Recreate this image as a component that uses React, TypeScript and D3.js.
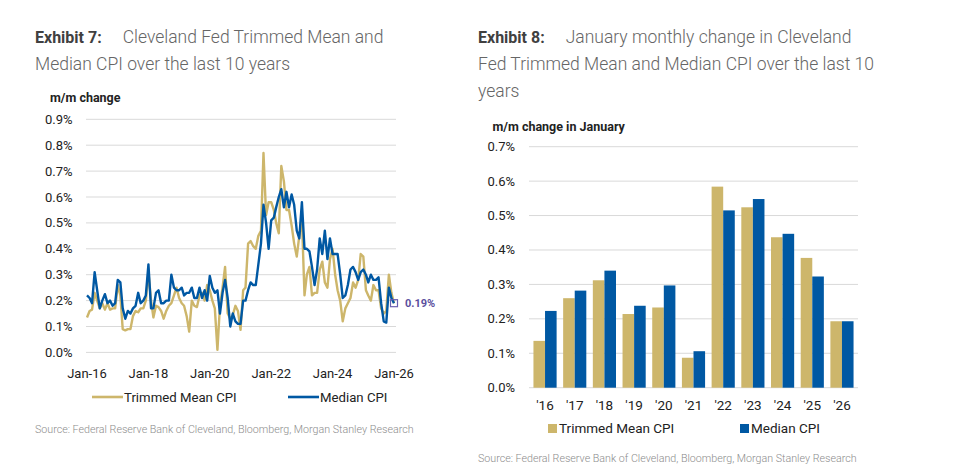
import * as d3 from 'd3';
import { useEffect, useRef } from 'react';

// Exhibit 7: monthly m/m change, Jan-16 .. Jan-26 (121 months)
const trimmedMean: number[] = [
    0.135, 0.16, 0.165, 0.23, 0.20, 0.17, 0.19, 0.165, 0.19, 0.165, 0.17, 0.17,
    0.26, 0.22, 0.09, 0.085, 0.09, 0.09, 0.14, 0.16, 0.155, 0.17, 0.17, 0.20,
    0.31, 0.20, 0.135, 0.18, 0.175, 0.16, 0.13, 0.16, 0.18, 0.19, 0.22, 0.25,
    0.21, 0.19, 0.18, 0.14, 0.08, 0.20, 0.18, 0.175, 0.22, 0.23, 0.20, 0.26,
    0.24, 0.20, 0.17, 0.01, 0.18, 0.25, 0.33, 0.15, 0.13, 0.145, 0.18, 0.16,
    0.087, 0.24, 0.25, 0.42, 0.43, 0.41, 0.40, 0.45, 0.47, 0.77, 0.53, 0.58,
    0.58, 0.55, 0.50, 0.46, 0.72, 0.66, 0.55, 0.55, 0.49, 0.42, 0.37, 0.45,
    0.52, 0.22, 0.30, 0.33, 0.22, 0.23, 0.23, 0.32, 0.35, 0.27, 0.25, 0.36,
    0.40, 0.30, 0.24, 0.20, 0.12, 0.17, 0.19, 0.21, 0.27, 0.25, 0.28, 0.38,
    0.37, 0.24, 0.22, 0.20, 0.26, 0.24, 0.24, 0.17, 0.15, 0.16, 0.30, 0.23,
    0.19
];

const medianCpi: number[] = [
    0.22, 0.21, 0.19, 0.31, 0.24, 0.17, 0.20, 0.225, 0.19, 0.20, 0.18, 0.19,
    0.28, 0.27, 0.17, 0.13, 0.16, 0.15, 0.17, 0.18, 0.23, 0.19, 0.20, 0.22,
    0.34, 0.17, 0.17, 0.23, 0.24, 0.19, 0.19, 0.20, 0.20, 0.30, 0.25, 0.24,
    0.24, 0.25, 0.22, 0.23, 0.23, 0.25, 0.21, 0.21, 0.25, 0.21, 0.24, 0.20,
    0.295, 0.25, 0.23, 0.24, 0.15, 0.23, 0.28, 0.21, 0.10, 0.15, 0.12, 0.11,
    0.11, 0.20, 0.20, 0.24, 0.27, 0.26, 0.26, 0.34, 0.42, 0.57, 0.50, 0.40,
    0.51, 0.52, 0.56, 0.60, 0.63, 0.56, 0.62, 0.56, 0.61, 0.57, 0.47, 0.44,
    0.58, 0.40, 0.40, 0.39, 0.33, 0.26, 0.32, 0.44, 0.38, 0.47, 0.36, 0.44,
    0.38, 0.38, 0.38, 0.30, 0.21, 0.22, 0.26, 0.32, 0.33, 0.31, 0.28, 0.31,
    0.32, 0.30, 0.27, 0.30, 0.28, 0.28, 0.29, 0.19, 0.12, 0.115, 0.25, 0.21,
    0.19
];

const lineTicks = ['Jan-16', 'Jan-18', 'Jan-20', 'Jan-22', 'Jan-24', 'Jan-26'];
const lineYTicks = [0, 0.1, 0.2, 0.3, 0.4, 0.5, 0.6, 0.7, 0.8, 0.9];

// Exhibit 8: January m/m change
const years = ["'16", "'17", "'18", "'19", "'20", "'21", "'22", "'23", "'24", "'25", "'26"];
const janTrimmed = [0.136, 0.26, 0.312, 0.214, 0.233, 0.087, 0.584, 0.524, 0.437, 0.377, 0.193];
const janMedian = [0.223, 0.282, 0.34, 0.238, 0.297, 0.106, 0.515, 0.548, 0.447, 0.323, 0.193];
const barYTicks = [0, 0.1, 0.2, 0.3, 0.4, 0.5, 0.6, 0.7];

const TAN = '#cdb66b';
const BLUE = '#0058a3';
const GRID = '#d9d9d9';
const FONT = 'Roboto, "Noto Sans", sans-serif';
const SOURCE = 'Source: Federal Reserve Bank of Cleveland, Bloomberg, Morgan Stanley Research';

const App: React.FC = () => {
    const ref = useRef<SVGSVGElement | null>(null);

    useEffect(() => {
        if (!ref.current) return;
        const svg = d3.select(ref.current);
        svg.selectAll('*').remove();
        svg.attr('font-family', FONT);

        const pct = (v: number) => `${v.toFixed(1)}%`;

        // ---------- titles ----------
        const title = (x: number, y: number, bold: string, lines: string[]) => {
            const t = svg.append('text').attr('x', x).attr('y', y).attr('font-size', 17.5)
                .attr('font-weight', 300).attr('fill', '#666');
            t.append('tspan').attr('font-weight', 700).attr('font-size', 16).attr('fill', '#404040').text(bold);
            t.append('tspan').attr('dx', 21).text(lines[0]);
            lines.slice(1).forEach((l, i) => {
                svg.append('text').attr('x', x).attr('y', y + 27 * (i + 1))
                    .attr('font-size', 17.5).attr('font-weight', 300).attr('fill', '#666').text(l);
            });
        };
        title(35, 43, 'Exhibit 7:', ['Cleveland Fed Trimmed Mean and', 'Median CPI over the last 10 years']);
        title(478, 43, 'Exhibit 8:', ['January monthly change in Cleveland', 'Fed Trimmed Mean and Median CPI over the last 10', 'years']);

        // ---------- Exhibit 7: lines ----------
        const dates = d3.timeMonth.range(new Date(2016, 0, 1), new Date(2026, 1, 1));
        const x = d3.scaleTime().domain([dates[0], dates[dates.length - 1]]).range([87, 394]);
        const y = d3.scaleLinear().domain([0, 0.9]).range([352.4, 119.3]);

        svg.append('text').attr('x', 50).attr('y', 102).attr('font-size', 12.5)
            .attr('font-weight', 700).attr('fill', '#222').text('m/m change');

        const gl = svg.append('g');
        gl.selectAll('line').data(lineYTicks).enter().append('line')
            .attr('x1', 86).attr('x2', 396)
            .attr('y1', d => y(d)).attr('y2', d => y(d))
            .attr('stroke', GRID).attr('stroke-width', 1);
        gl.selectAll('text').data(lineYTicks).enter().append('text')
            .attr('x', 72.5).attr('y', d => y(d) + 4.5).attr('text-anchor', 'end')
            .attr('font-size', 13).attr('fill', '#222').text(d => pct(d));

        const tickDates = lineTicks.map((_, i) => new Date(2016 + 2 * i, 0, 1));
        svg.append('g').selectAll('text').data(tickDates).enter().append('text')
            .attr('x', d => x(d)).attr('y', 378).attr('text-anchor', 'middle')
            .attr('font-size', 13).attr('fill', '#222').text((_d, i) => lineTicks[i]);

        const line = d3.line<number>().x((_d, i) => x(dates[i])).y(d => y(d));
        svg.append('path').datum(trimmedMean).attr('d', line)
            .attr('fill', 'none').attr('stroke', TAN).attr('stroke-width', 2.4).attr('stroke-linejoin', 'round');
        svg.append('path').datum(medianCpi).attr('d', line)
            .attr('fill', 'none').attr('stroke', BLUE).attr('stroke-width', 2.4).attr('stroke-linejoin', 'round');

        const last = medianCpi[medianCpi.length - 1];
        const lx = x(dates[dates.length - 1]);
        const ly = y(last);
        svg.append('rect').attr('x', lx - 3.5).attr('y', ly - 3.5).attr('width', 7).attr('height', 7)
            .attr('fill', 'none').attr('stroke', '#6a5fb0').attr('stroke-width', 1.2);
        svg.append('text').attr('x', lx + 11).attr('y', ly + 4).attr('font-size', 11)
            .attr('font-weight', 700).attr('fill', '#5b4f9e').text(`${last.toFixed(2)}%`);

        // legend
        const leg7 = [
            { label: 'Trimmed Mean CPI', color: TAN, x: 92 },
            { label: 'Median CPI', color: BLUE, x: 288 }
        ];
        leg7.forEach(l => {
            svg.append('line').attr('x1', l.x).attr('x2', l.x + 31).attr('y1', 397).attr('y2', 397)
                .attr('stroke', l.color).attr('stroke-width', 2.6);
            svg.append('text').attr('x', l.x + 32).attr('y', 401.5).attr('font-size', 13.2)
                .attr('fill', '#222').text(l.label);
        });
        svg.append('text').attr('x', 35).attr('y', 433).attr('font-size', 10.7).attr('font-weight', 300)
            .attr('fill', '#8c8c8c').text(SOURCE);

        // ---------- Exhibit 8: bars ----------
        const x0 = d3.scaleBand().domain(years).range([529, 858]).paddingInner(0.22).paddingOuter(0.15);
        const x1 = d3.scaleBand().domain(['trimmed', 'median']).range([0, x0.bandwidth()]);
        const yb = d3.scaleLinear().domain([0, 0.7]).range([387.7, 146.7]);

        svg.append('text').attr('x', 492.5).attr('y', 131).attr('font-size', 12.5)
            .attr('font-weight', 700).attr('fill', '#222').text('m/m change in January');

        const gb = svg.append('g');
        gb.selectAll('line').data(barYTicks).enter().append('line')
            .attr('x1', 529).attr('x2', 858)
            .attr('y1', d => yb(d)).attr('y2', d => yb(d))
            .attr('stroke', GRID).attr('stroke-width', 1);
        gb.selectAll('text').data(barYTicks).enter().append('text')
            .attr('x', 515).attr('y', d => yb(d) + 4.5).attr('text-anchor', 'end')
            .attr('font-size', 13).attr('fill', '#222').text(d => pct(d));

        const groups = svg.append('g').selectAll('g').data(years).enter().append('g')
            .attr('transform', d => `translate(${x0(d)},0)`);
        groups.append('rect')
            .attr('x', x1('trimmed')!).attr('width', x1.bandwidth())
            .attr('y', (_d, i) => yb(janTrimmed[i])).attr('height', (_d, i) => yb(0) - yb(janTrimmed[i]))
            .attr('fill', TAN);
        groups.append('rect')
            .attr('x', x1('median')!).attr('width', x1.bandwidth())
            .attr('y', (_d, i) => yb(janMedian[i])).attr('height', (_d, i) => yb(0) - yb(janMedian[i]))
            .attr('fill', BLUE);
        groups.append('text')
            .attr('x', x0.bandwidth() / 2).attr('y', 410).attr('text-anchor', 'middle')
            .attr('font-size', 13.5).attr('fill', '#222').text(d => d);

        const leg8 = [
            { label: 'Trimmed Mean CPI', color: TAN, x: 548 },
            { label: 'Median CPI', color: BLUE, x: 740 }
        ];
        leg8.forEach(l => {
            svg.append('rect').attr('x', l.x).attr('y', 424).attr('width', 9).attr('height', 9).attr('fill', l.color);
            svg.append('text').attr('x', l.x + 11).attr('y', 433).attr('font-size', 13.5)
                .attr('fill', '#222').text(l.label);
        });
        svg.append('text').attr('x', 478).attr('y', 462).attr('font-size', 10.7).attr('font-weight', 300)
            .attr('fill', '#8c8c8c').text(SOURCE);
    }, []);

    return (
        <svg ref={ref} width={960} height={475}
            style={{ position: 'absolute', left: 0, top: 0, background: '#fff' }} />
    );
};

export default App;
